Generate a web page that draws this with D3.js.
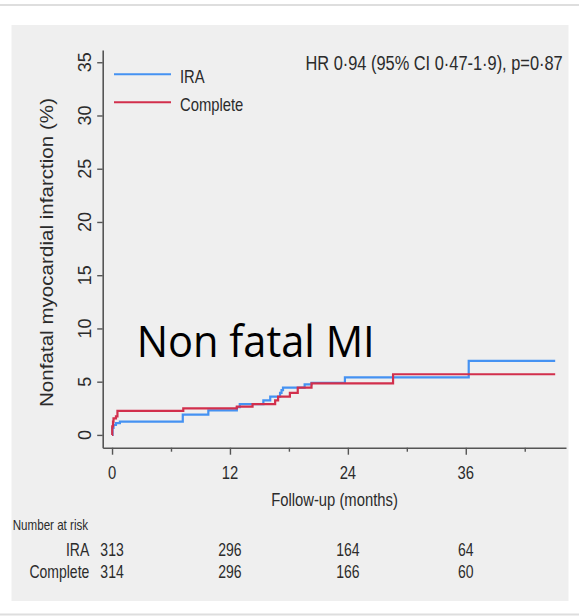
<!DOCTYPE html>
<html>
<head>
<meta charset="utf-8">
<script src="https://cdn.jsdelivr.net/npm/d3@7"></script>
<style>
  html, body { margin: 0; padding: 0; background: #ffffff; }
  svg { display: block; }
</style>
</head>
<body>
<svg id="chart" width="579" height="616"></svg>
<script>
// ---------------- data ----------------
const seriesNames = ["IRA", "Complete"];
const iraTimes   = [0, 0.05, 0.15, 0.4, 0.8, 7.2, 9.8, 12.7, 13.0, 15.4, 16.1, 17.1, 17.25, 17.4, 19.6, 20.3, 23.7, 36.3, 45.1];
const iraValues  = [0, 0.65, 0.95, 1.1, 1.25, 1.9, 2.3, 2.6, 2.9, 3.25, 3.6, 3.95, 4.2, 4.45, 4.75, 4.9, 5.4, 6.95, 6.95];
const completeTimes  = [0, 0.02, 0.1, 0.15, 0.4, 0.55, 7.25, 12.7, 14.3, 16.6, 16.9, 18.1, 18.9, 20.3, 28.6, 45.1];
const completeValues = [0, 0.8, 1.25, 1.55, 1.75, 2.25, 2.5, 2.65, 2.9, 3.25, 3.6, 3.95, 4.45, 4.85, 5.7, 5.7];
const yTicks = [0, 5, 10, 15, 20, 25, 30, 35];
const xMajorTicks = [0, 12, 24, 36];
const xMinorTicks = [6, 18, 30, 42];
const riskMonths = [0, 12, 24, 36];
const iraAtRisk = [313, 296, 164, 64];
const completeAtRisk = [314, 296, 166, 60];
const hrText = "HR 0·94 (95% CI 0·47-1·9), p=0·87";
const yTitle = "Nonfatal myocardial infarction (%)";
const xTitle = "Follow-up (months)";
const overlayText = "Non fatal MI";
const riskTitle = "Number at risk";

// ---------------- styles ----------------
const colors = { IRA: "#4592f2", Complete: "#d22f4c" };
const textColor = "#2b2b2b";
const axisColor = "#555555";
const FONT = "'Liberation Sans', Arial, Helvetica, sans-serif";
const SX = 0.8; // horizontal condensing of horizontal text

const svg = d3.select("#chart");

// frame
svg.append("rect").attr("x", 0).attr("y", 0).attr("width", 579).attr("height", 616).attr("fill", "#ffffff");
svg.append("line").attr("x1", 0).attr("x2", 579).attr("y1", 5).attr("y2", 5)
  .attr("stroke", "#dedede").attr("stroke-width", 2);
svg.append("line").attr("x1", 0).attr("x2", 579).attr("y1", 614.5).attr("y2", 614.5)
  .attr("stroke", "#dedede").attr("stroke-width", 2);
svg.append("rect").attr("x", 11.5).attr("y", 25).attr("width", 557).attr("height", 576)
  .attr("fill", "#efefef");

// scales
const x = d3.scaleLinear().domain([-0.95, 46.2]).range([102.7, 566]);
const y = d3.scaleLinear().domain([-1.2, 36.15]).range([447.7, 50]);

// helper for horizontal (condensed) text
function htext(px, py, str, size, anchor, color) {
  const g = svg.append("g").attr("transform", `translate(${px},${py}) scale(${SX},1)`);
  g.append("text").attr("x", 0).attr("y", 0)
    .attr("font-family", FONT).attr("font-size", size)
    .attr("text-anchor", anchor || "start")
    .attr("fill", color || textColor)
    .text(str);
  return g;
}

// ---------------- axes ----------------
const xAxisG = svg.append("g").attr("transform", `translate(0,${y.range()[0]})`)
  .call(d3.axisBottom(x).tickValues(xMajorTicks).tickSize(7).tickSizeOuter(0).tickFormat(""));
xAxisG.select(".domain").attr("stroke", axisColor).attr("stroke-width", 1.6);
xAxisG.selectAll(".tick line").attr("stroke", axisColor).attr("stroke-width", 1.4);

const xMinorG = svg.append("g").attr("transform", `translate(0,${y.range()[0]})`)
  .call(d3.axisBottom(x).tickValues(xMinorTicks).tickSize(4).tickSizeOuter(0).tickFormat(""));
xMinorG.select(".domain").remove();
xMinorG.selectAll(".tick line").attr("stroke", axisColor).attr("stroke-width", 1.4);

const yAxisG = svg.append("g").attr("transform", `translate(${x.range()[0]},0)`)
  .call(d3.axisLeft(y).tickValues(yTicks).tickSize(5.5).tickSizeOuter(0).tickFormat(""));
yAxisG.select(".domain").attr("stroke", axisColor).attr("stroke-width", 1.6);
yAxisG.selectAll(".tick line").attr("stroke", axisColor).attr("stroke-width", 1.4);

// x tick labels
xMajorTicks.forEach(t => htext(x(t), 478.5, String(t), 18.5, "middle"));

// y tick labels (rotated)
yTicks.forEach(v => {
  svg.append("text")
    .attr("transform", `translate(90.5,${y(v)}) rotate(-90)`)
    .attr("font-family", FONT).attr("font-size", 18)
    .attr("text-anchor", "middle").attr("fill", textColor)
    .text(String(v));
});

// axis titles
svg.append("text")
  .attr("transform", `translate(53.3,252.5) rotate(-90)`)
  .attr("font-family", FONT).attr("font-size", 18.5)
  .attr("text-anchor", "middle").attr("fill", textColor)
  .attr("textLength", 309).attr("lengthAdjust", "spacingAndGlyphs")
  .text(yTitle);
htext(334.5, 506, xTitle, 18.5, "middle");

// ---------------- curves ----------------
const line = d3.line().x(d => x(d[0])).y(d => y(d[1])).curve(d3.curveStepAfter);
const iraData = iraTimes.map((t, i) => [t, iraValues[i]]);
const completeData = completeTimes.map((t, i) => [t, completeValues[i]]);
svg.append("path").datum(iraData).attr("d", line)
  .attr("fill", "none").attr("stroke", colors.IRA).attr("stroke-width", 2.2);
svg.append("path").datum(completeData).attr("d", line)
  .attr("fill", "none").attr("stroke", colors.Complete).attr("stroke-width", 2.2);

// ---------------- legend ----------------
const legendY = [74.3, 102.3];
seriesNames.forEach((name, i) => {
  svg.append("line").attr("x1", 114).attr("x2", 171)
    .attr("y1", legendY[i]).attr("y2", legendY[i])
    .attr("stroke", colors[name]).attr("stroke-width", 2);
  htext(180, legendY[i] + 8.3, name, 18.5, "start");
});

// HR annotation
htext(562.7, 70, hrText, 20.5, "end");

// overlay big text
svg.append("text").attr("x", 136.7).attr("y", 356.7)
  .attr("font-family", "'Open Sans', 'Noto Sans', sans-serif").attr("font-size", 44)
  .attr("fill", "#000000")
  .attr("textLength", 238).attr("lengthAdjust", "spacingAndGlyphs")
  .text(overlayText);

// ---------------- number at risk ----------------
htext(12.7, 530, riskTitle, 14.5, "start");
const rowBaselines = [556, 578.3];
const rows = [iraAtRisk, completeAtRisk];
seriesNames.forEach((name, i) => {
  htext(89.3, rowBaselines[i], name, 17.5, "end");
  rows[i].forEach((n, j) => htext(x(riskMonths[j]), rowBaselines[i], String(n), 17.5, "middle"));
});
</script>
</body>
</html>
